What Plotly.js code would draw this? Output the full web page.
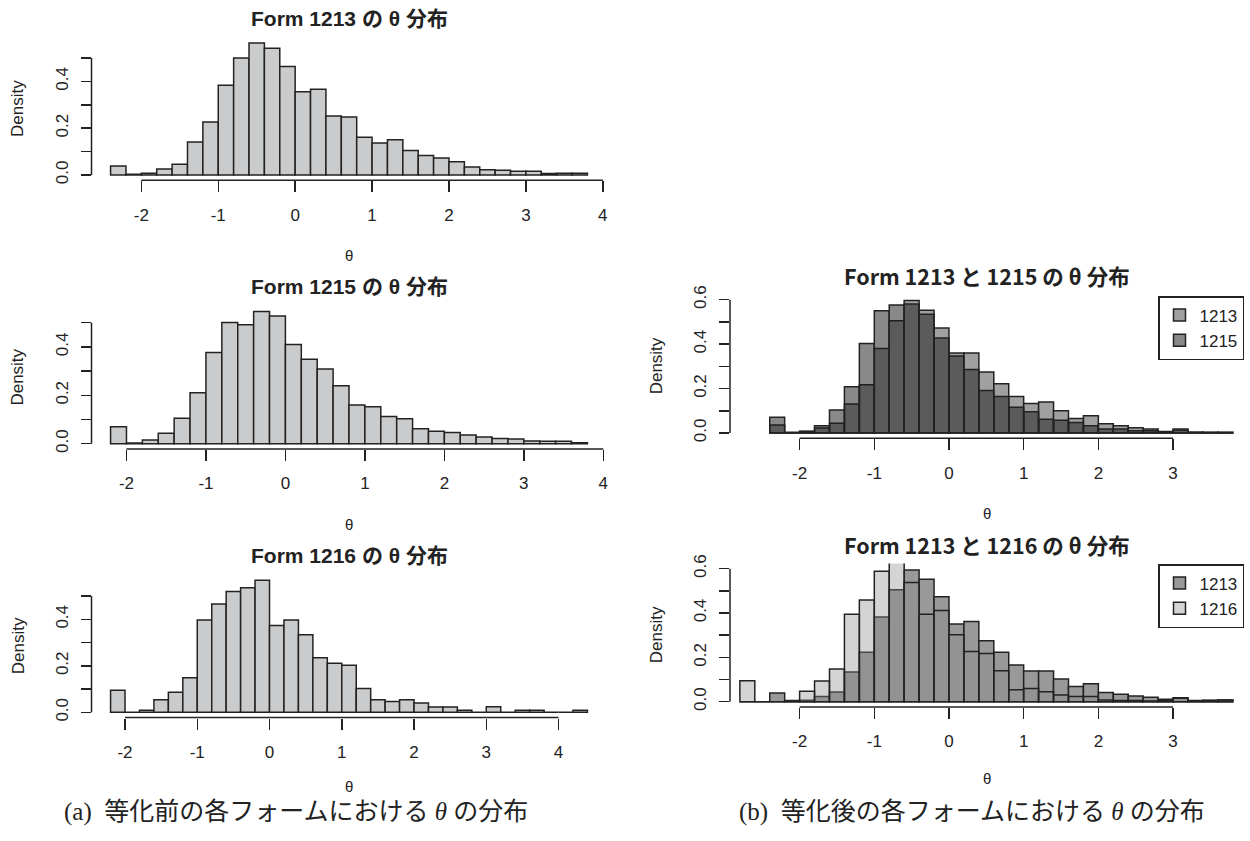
<!DOCTYPE html>
<html>
<head>
<meta charset="utf-8">
<script src="https://cdn.plot.ly/plotly-3.0.1.min.js"></script>
<style>html,body{margin:0;padding:0;background:#fff;}#chart{width:1250px;height:841px;}</style>
</head>
<body>
<div id="chart"></div>
<script>
// ---------------- data (densities) ----------------
const BIN_WIDTH = 0.2;

// (a) before equating
const start1213 = -2.4;
const dens1213 = [0.038,0.003,0.008,0.026,0.046,0.141,0.226,0.383,0.500,0.564,0.542,0.464,0.356,0.366,0.252,0.248,0.161,0.137,0.151,0.105,0.083,0.073,0.057,0.034,0.023,0.020,0.016,0.016,0.006,0.007,0.007];

const start1215 = -2.2;
const dens1215 = [0.070,0.003,0.015,0.043,0.105,0.211,0.377,0.501,0.491,0.546,0.528,0.410,0.349,0.309,0.239,0.160,0.153,0.112,0.103,0.062,0.052,0.046,0.036,0.028,0.022,0.019,0.011,0.010,0.010,0.004];

const start1216 = -2.2;
const dens1216 = [0.095,0,0.009,0.054,0.086,0.149,0.397,0.466,0.520,0.536,0.568,0.373,0.397,0.334,0.235,0.211,0.202,0.102,0.054,0.047,0.054,0.040,0.023,0.023,0.009,0,0.024,0,0.009,0.009,0,0,0.009];

// (b) after equating: 1213 vs 1215
const startPairA = -2.4;
const pairA_1213 = [0.036,0.003,0.008,0.022,0.044,0.131,0.217,0.380,0.505,0.596,0.553,0.473,0.360,0.360,0.274,0.222,0.164,0.133,0.139,0.100,0.065,0.077,0.041,0.032,0.023,0.018,0.007,0.018,0.003,0.003,0.003];
const pairA_1215 = [0.071,0,0.007,0.033,0.104,0.208,0.403,0.550,0.576,0.581,0.535,0.428,0.347,0.286,0.191,0.164,0.116,0.096,0.062,0.057,0.047,0.032,0.018,0.018,0.010,0.010,0.005,0.012,0.003,0.002,0.002];

// (b) after equating: 1213 vs 1216
const startPairB = -2.8;
const pairB_1213 = [0,0,0.039,0.005,0.006,0.023,0.044,0.134,0.223,0.382,0.505,0.594,0.553,0.474,0.350,0.362,0.275,0.223,0.165,0.138,0.138,0.102,0.068,0.081,0.041,0.033,0.026,0.020,0.011,0.018,0.005,0.006,0.008];
const pairB_1216 = [0.095,0,0,0,0.047,0.093,0.147,0.394,0.459,0.589,0.650,0.538,0.394,0.411,0.302,0.226,0.217,0.140,0.054,0.060,0.045,0.030,0.023,0.023,0.008,0.005,0.005,0.003,0.006,0.015,0,0.005,0.008];

// tick values / labels
const xTicksA = [-2,-1,0,1,2,3,4];
const xTicksB = [-2,-1,0,1,2,3];
const yTicksA = [0,0.1,0.2,0.3,0.4,0.5];
const yTicksB = [0,0.1,0.2,0.3,0.4,0.5,0.6];

const titles = ["Form 1213 の θ 分布","Form 1215 の θ 分布","Form 1216 の θ 分布","Form 1213 と 1215 の θ 分布","Form 1213 と 1216 の θ 分布"];
const captionA = "(a)  等化前の各フォームにおける <i>θ</i> の分布";
const captionB = "(b)  等化後の各フォームにおける <i>θ</i> の分布";

// ---------------- helpers ----------------
const W = 1250, H = 841;
const px = x => x / W;
const py = y => 1 - y / H;
const centers = (start, n) => Array.from({length:n}, (_, i) => +(start + BIN_WIDTH * (i + 0.5)).toFixed(4));
const yLabel = v => (Math.round(v*10) % 2 === 0) ? v.toFixed(1) : "";

const FONT = "Liberation Sans, Arial, Noto Sans CJK JP, sans-serif";
const INK = "#222";
const LINE = {color: INK, width: 1.5};

// panel geometry (pixels) and ranges
const panels = [
  {xd:[91.5,606.5], yd:[37.6,180.3], xr:[-2.648,4.048], yr:[-0.0226,0.587], xt:xTicksA, yt:yTicksA, th:75},
  {xd:[91.5,606.5], yd:[306.2,449.0], xr:[-2.44,4.04], yr:[-0.0218,0.568], xt:xTicksA, yt:yTicksA, th:75},
  {xd:[91.5,606.5], yd:[574.9,717.6], xr:[-2.464,4.664], yr:[-0.0227,0.591], xt:xTicksA, yt:yTicksA, th:69},
  {xd:[730,1244], yd:[294.4,438.3], xr:[-2.932,3.95], yr:[-0.024,0.624], xt:xTicksB, yt:yTicksB, th:75},
  {xd:[730,1244], yd:[563.4,707.0], xr:[-2.932,3.95], yr:[-0.024,0.624], xt:xTicksB, yt:yTicksB, th:71}
];

const legendStyle = {xanchor: "right", yanchor: "top",
  bordercolor: INK, borderwidth: 1.5, bgcolor: "#fff",
  font: {size: 17, family: FONT, color: INK}, itemwidth: 30, tracegroupgap: 4};

const layout = {
  width: W, height: H,
  margin: {l:0, r:0, t:0, b:0},
  paper_bgcolor: "#fff",
  plot_bgcolor: "rgba(0,0,0,0)",
  barmode: "overlay",
  font: {family: FONT, color: INK},
  shapes: [],
  annotations: [],
  legend: Object.assign({x: px(1244), y: py(296)}, legendStyle),
  legend2: Object.assign({x: px(1244), y: py(564)}, legendStyle)
};

panels.forEach((p, i) => {
  const n = i === 0 ? "" : String(i + 1);
  layout["xaxis" + n] = {
    domain: [px(p.xd[0]), px(p.xd[1])], range: p.xr, anchor: "y" + n,
    showline: false, zeroline: false, showgrid: false,
    tickmode: "array", tickvals: p.xt, ticktext: p.xt.map(String),
    ticks: "outside", ticklen: 11, tickwidth: 1.5, tickcolor: INK,
    tickfont: {size: 17, family: FONT, color: INK}, ticklabelstandoff: 8, fixedrange: true
  };
  layout["yaxis" + n] = {
    domain: [py(p.yd[1]), py(p.yd[0])], range: p.yr, anchor: "x" + n,
    showline: false, zeroline: false, showgrid: false,
    tickmode: "array", tickvals: p.yt, ticktext: p.yt.map(yLabel), tickangle: -90,
    ticks: "outside", ticklen: 10, tickwidth: 1.5, tickcolor: INK,
    tickfont: {size: 17, family: FONT, color: INK}, ticklabelstandoff: 6, fixedrange: true
  };
  // R-style axis lines spanning first..last tick
  layout.shapes.push({type:"line", xref:"x"+n, yref:"y"+n+" domain",
    x0: p.xt[0], x1: p.xt[p.xt.length-1], y0: 0, y1: 0, line: LINE});
  layout.shapes.push({type:"line", xref:"x"+n+" domain", yref:"y"+n,
    x0: 0, x1: 0, y0: p.yt[0], y1: p.yt[p.yt.length-1], line: LINE});

  const cx = (p.xd[0] + p.xd[1]) / 2;
  const right = i >= 3;
  layout.annotations.push({xref:"paper", yref:"paper", x: px(cx), y: py(p.yd[0] - (right ? 18.5 : 19.5)),
    xanchor:"center", yanchor:"middle", showarrow:false,
    text: "<b>" + titles[i] + "</b>",
    font: {size: right ? 21.5 : 21, family: right ? "Noto Sans CJK JP, sans-serif" : FONT, color: INK}});
  layout.annotations.push({xref:"paper", yref:"paper", x: px(right ? 656 : 18), y: py((p.yd[0]+p.yd[1])/2),
    xanchor:"center", yanchor:"middle", showarrow:false, textangle:-90,
    text: "Density", font: {size: 17, family: FONT, color: INK}});
  layout.annotations.push({xref:"paper", yref:"paper", x: px(cx), y: py(p.yd[1] + p.th),
    xanchor:"center", yanchor:"middle", showarrow:false,
    text: "θ", font: {size: 15, family: FONT, color: INK}});
});

const CAP_FONT = {size: 25, family: "Liberation Serif, Noto Sans CJK JP, serif", color: INK};
layout.annotations.push({xref:"paper", yref:"paper", x: px(296), y: py(812), xanchor:"center", yanchor:"middle",
  showarrow:false, text: captionA, font: CAP_FONT});
layout.annotations.push({xref:"paper", yref:"paper", x: px(972), y: py(812), xanchor:"center", yanchor:"middle",
  showarrow:false, text: captionB, font: CAP_FONT});

const bar = (start, vals, ax, color, extra) => Object.assign({
  type: "bar", x: centers(start, vals.length), y: vals, width: BIN_WIDTH,
  xaxis: "x" + ax, yaxis: "y" + ax,
  marker: {color: color, line: LINE}, showlegend: false, hoverinfo: "skip"
}, extra || {});

const data = [
  bar(start1213, dens1213, "", "#cacbcd"),
  bar(start1215, dens1215, "2", "#cacbcd"),
  bar(start1216, dens1216, "3", "#cacbcd"),
  bar(startPairA, pairA_1213, "4", "#a0a0a0", {name: "1213", showlegend: true, legend: "legend"}),
  bar(startPairA, pairA_1215, "4", "rgba(28,28,28,0.52)", {name: "1215", showlegend: true, legend: "legend"}),
  bar(startPairB, pairB_1213, "5", "#999999", {name: "1213", showlegend: true, legend: "legend2"}),
  bar(startPairB, pairB_1216, "5", "rgba(137,137,137,0.37)", {name: "1216", showlegend: true, legend: "legend2"})
];

Plotly.newPlot("chart", data, layout, {staticPlot: true, displayModeBar: false});
</script>
</body>
</html>
